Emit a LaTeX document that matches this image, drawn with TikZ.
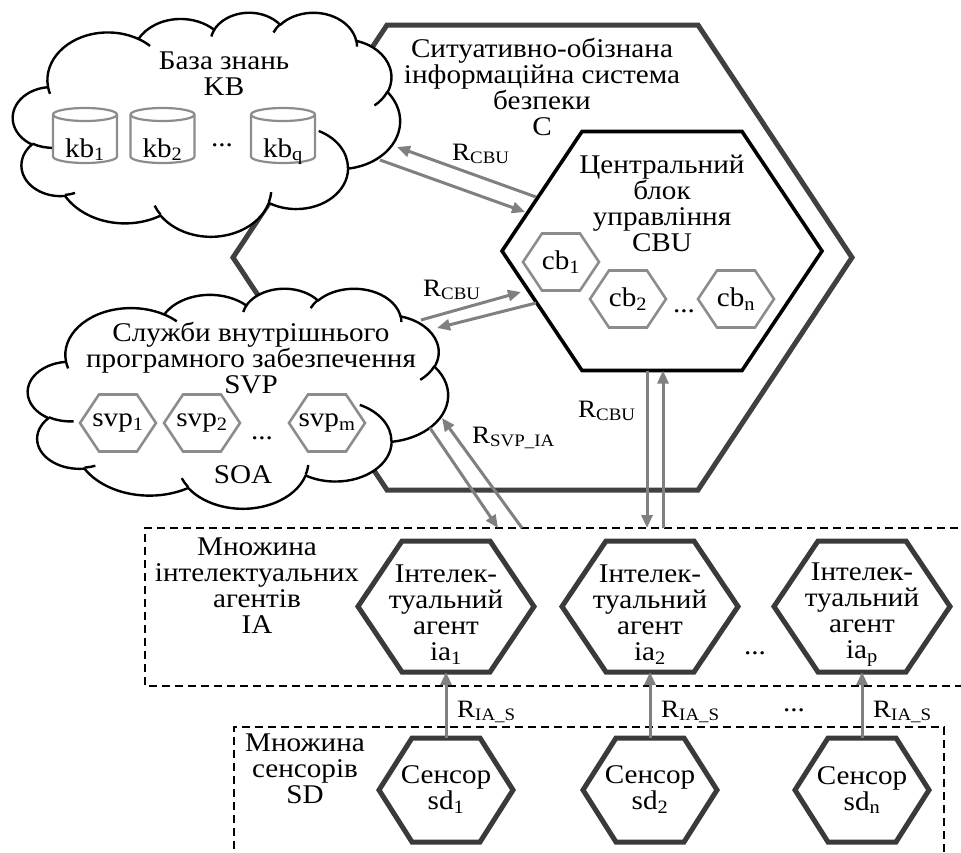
\documentclass[tikz,border=0pt]{standalone}
\usepackage{fontspec}
\setmainfont{Liberation Serif}[FakeStretch=1.08]
\usetikzlibrary{arrows.meta,calc}
\lineskiplimit=-30pt

\definecolor{framedark}{HTML}{404040}
\definecolor{agentdark}{HTML}{3A3A3A}
\definecolor{partgray}{HTML}{8C8C8C}
\definecolor{linkgray}{HTML}{808080}

\tikzset{
  % one elliptical step of a cloud outline: radii wR, hR (frame units of 432),
  % start angle and sweep given as ray angles in degrees
  ooarc/.style n args={4}{insert path={
    arc[start angle={-atan2((#1)*sin(#3),(#2)*cos(#3))},
        end angle={-atan2((#1)*sin((#3)+(#4)),(#2)*cos((#3)+(#4)))-360*(atan2((#1)*sin((#3)+(#4)),(#2)*cos((#3)+(#4)))<atan2((#1)*sin(#3),(#2)*cos(#3)))},
        x radius={(#1)*\cw*1pt}, y radius={(#2)*\ch*1pt}]}},
  cloudline/.style={draw=black, line width=2.4pt, line join=round},
  body/.style={font=\fontsize{27}{26}\selectfont, align=center, inner sep=0pt},
  rlabel/.style={font=\fontsize{25}{25}\selectfont, anchor=base west, inner sep=0pt},
  box/.style={rectangle, inner sep=0pt, outer sep=0pt},
  frameline/.style={draw=framedark, line width=5pt, line join=miter},
  cbuline/.style={draw=black, line width=3.6pt, line join=miter},
  agentline/.style={draw=agentdark, line width=5pt, line join=miter},
  partline/.style={draw=partgray, line width=2.6pt, line join=miter},
  dbline/.style={draw=partgray, line width=2.2pt},
  setline/.style={draw=black, line width=1.6pt, dash pattern=on 8pt off 5pt},
  link/.style={draw=linkgray, line width=3pt, -{Triangle[length=13pt,width=11pt]}},
  part/.style={box, minimum width=76pt, minimum height=57pt, font=\fontsize{27}{27}\selectfont},
  agent/.style={box, minimum width=176pt, minimum height=131pt},
  sensor/.style={box, minimum width=134pt, minimum height=104pt, font=\fontsize{27}{26}\selectfont, align=center},
  db/.style={box, minimum width=64pt, minimum height=55pt, text height=43pt, text depth=0pt, font=\fontsize{27}{27}\selectfont},
}

% hexagon with flat top and bottom around a rectangular node
\newcommand\hexborder[3]{%
  \draw[#3] (#1.west) -- ([xshift=#2]#1.north west) -- ([xshift=-#2]#1.north east)
    -- (#1.east) -- ([xshift=-#2]#1.south east) -- ([xshift=#2]#1.south west) -- cycle;}

% database cylinder around a rectangular node
\newcommand\dbborder[1]{%
  \draw[dbline, fill=white] ([yshift=-6.5pt]#1.north west) -- ([yshift=6.5pt]#1.south west)
    arc[start angle=180, end angle=360, x radius=32pt, y radius=6.5pt]
    -- ([yshift=-6.5pt]#1.north east)
    arc[start angle=0, end angle=180, x radius=32pt, y radius=6.5pt] -- cycle;
  \draw[dbline] ([yshift=-6.5pt]#1.north west)
    arc[start angle=180, end angle=360, x radius=32pt, y radius=6.5pt];}

% cloud outline in the frame (left, top, width, height)
\newcommand\wordcloud[4]{%
  \pgfmathsetmacro\cw{#3/432}\pgfmathsetmacro\ch{#4/432}%
  \draw[cloudline, fill=white] ({#1+39.00*\cw},{#2+143.70*\ch})
    [ooarc={67.53}{91.90}{-190.48748}{123.78053}]
    [ooarc={53.33}{72.67}{-144.10238}{89.94523}]
    [ooarc={43.65}{59.45}{-145.80792}{99.72302}]
    [ooarc={48.57}{65.95}{-130.98607}{117.24173}]
    [ooarc={53.33}{72.73}{-78.70888}{109.02692}]
    [ooarc={67.75}{92.20}{-46.26725}{130.269}]
    [ooarc={57.85}{78.67}{0.62502}{114.03333}]
    [ooarc={67.52}{92.15}{22.4516}{115.17255}]
    [ooarc={77.20}{105.43}{66.24263}{75.71102}]
    [ooarc={43.60}{59.18}{-274.94208}{146.73557}]
    [ooarc={43.45}{59.45}{-246.8285}{152.51885}]
    -- cycle;
  \draw[cloudline]
    ({#1+46.93*\cw},{#2+261.77*\ch}) [ooarc={43.45}{59.45}{86.742}{26.4295}]
    ({#1+69.28*\cw},{#2+348.99*\ch}) [ooarc={43.60}{59.18}{73.6105}{11.4475}]
    ({#1+164.78*\cw},{#2+390.90*\ch}) [ooarc={67.52}{92.15}{137.6242}{14.0811}]
    ({#1+288.27*\cw},{#2+347.51*\ch}) [ooarc={67.52}{92.15}{6.4533}{15.9984}]
    ({#1+341.29*\cw},{#2+229.54*\ch}) [ooarc={57.85}{78.67}{-70.2924}{70.9174}]
    ({#1+417.98*\cw},{#2+153.54*\ch}) [ooarc={53.33}{72.73}{30.318}{27.7515}]
    ({#1+383.24*\cw},{#2+54.26*\ch}) [ooarc={48.57}{65.95}{-13.7443}{14.8589}]
    ({#1+290.78*\cw},{#2+39.52*\ch}) [ooarc={48.57}{65.95}{-149.1815}{18.1954}]
    ({#1+221.41*\cw},{#2+47.20*\ch}) [ooarc={43.65}{59.45}{-163.4943}{17.6864}]
    ({#1+140.00*\cw},{#2+51.92*\ch}) [ooarc={67.53}{91.90}{-66.707}{12.3194}]
    ({#1+41.27*\cw},{#2+157.89*\ch}) [ooarc={67.53}{91.90}{157.6544}{11.8582}];}

\begin{document}
\begin{tikzpicture}[x=1pt,y=-1pt]
\useasboundingbox (0,0) rectangle (961,852);
\clip (0,0) rectangle (961,852);
\fill[white] (0,0) rectangle (961,852);

% situation-aware security system C
\node[box, minimum width=619pt, minimum height=465pt] (C) at (542.5,257.5) {};
\hexborder{C}{154pt}{frameline}
\node[body] (Ctext) at (542,87) {Ситуативно-обізнана\\інформаційна система\\безпеки\\C};

% central control unit
\node[box, minimum width=320pt, minimum height=239pt] (CBU) at (662,251) {};
\hexborder{CBU}{80pt}{cbuline}
\node[body] (CBUtext) at (662,203) {Центральний\\блок\\управління\\CBU};
\node[part] (cb1) at (561,262) {cb\textsubscript{1}};
\node[part] (cb2) at (628,299) {cb\textsubscript{2}};
\node[part] (cbn) at (736,299) {cb\textsubscript{n}};
\foreach \n in {cb1,cb2,cbn} {\hexborder{\n}{19pt}{partline}}
\node[body] (cbdots) at (684,311) {...};

% knowledge base
\wordcloud{13}{12}{387}{224}
\node[body] (KBtext) at (224,74) {База знань\\KB};
\node[db] (kb1) at (85,135.5) {};
\node[db] (kb2) at (162.5,135.5) {};
\node[db] (kbq) at (283,135.5) {};
\foreach \n in {kb1,kb2,kbq} {\dbborder{\n}}
\node[db] (kb1t) at (kb1) {kb\textsubscript{1}};
\node[db] (kb2t) at (kb2) {kb\textsubscript{2}};
\node[db] (kbqt) at (kbq) {kb\textsubscript{q}};
\node[body] (kbdots) at (222,145) {...};

% internal software services
\wordcloud{28}{288}{420}{220}
\node[body] (SVPtext) at (251,358) {Служби внутрішнього\\програмного забезпечення\\SVP};
\node[part] (svp1) at (118,423) {svp\textsubscript{1}};
\node[part] (svp2) at (202,423) {svp\textsubscript{2}};
\node[part] (svpm) at (327,423) {svp\textsubscript{m}};
\foreach \n in {svp1,svp2,svpm} {\hexborder{\n}{19pt}{partline}}
\node[body] (svpdots) at (262,438) {...};
\node[body] (SOA) at (243,475) {SOA};

% set of intelligent agents
\node[box, minimum width=826pt, minimum height=158pt] (IAbox) at (558,607) {};
\draw[setline] (IAbox.north east) -- (IAbox.north west) -- (IAbox.south west) -- (IAbox.south east);
\node[body] (IAtext) at (257,586) {Множина\\інтелектуальних\\агентів\\IA};
\node[agent] (ia1) at (446,606.5) {};
\node[agent] (ia2) at (650,606.5) {};
\node[agent] (iap) at (862,606.5) {};
\foreach \n in {ia1,ia2,iap} {\hexborder{\n}{44pt}{agentline}}
\node[body] (ia1t) at (446,615) {Інтелек-\\туальний\\агент\\ia\textsubscript{1}};
\node[body] (ia2t) at (650,615) {Інтелек-\\туальний\\агент\\ia\textsubscript{2}};
\node[body] (iapt) at (862,615) {Інтелек-\\туальний\\агент\\ia\textsubscript{p}};
\node[body] (iadots) at (755,653) {...};

% set of sensors
\node[box, minimum width=710pt, minimum height=135pt] (SDbox) at (589,794.5) {};
\draw[setline] (SDbox.south west) -- (SDbox.north west) -- (SDbox.north east) -- (SDbox.south east);
\node[body] (SDtext) at (305,769) {Множина\\сенсорів\\SD};
\node[sensor] (sd1) at (446,790) {Сенсор\\sd\textsubscript{1}};
\node[sensor] (sd2) at (650,790) {Сенсор\\sd\textsubscript{2}};
\node[sensor] (sdn) at (862,790) {Сенсор\\sd\textsubscript{n}};
\foreach \n in {sd1,sd2,sdn} {\hexborder{\n}{33pt}{agentline}}

% connector ends on the clouds and the control unit
\coordinate (kbIn) at (397,147);
\coordinate (kbOut) at (380,160);
\coordinate (cbuOutK) at (536,197);
\coordinate (cbuInK) at (525,212);
\coordinate (svOut) at (421,320);
\coordinate (cbuInS) at (521,292);
\coordinate (cbuOutS) at (536,303);
\coordinate (svIn) at (437,328);
\coordinate (svOutA) at (430,428);
\coordinate (iaInS) at (498,528);
\coordinate (iaOutS) at (522,528);
\coordinate (svInA) at (442,418);

% relations
\draw[link] (cbuOutK) -- (kbIn);
\draw[link] (kbOut) -- (cbuInK);
\draw[link] (svOut) -- (cbuInS);
\draw[link] (cbuOutS) -- (svIn);
\draw[link] ([xshift=-15pt]CBU.south) -- ([xshift=-15pt]CBU.south |- IAbox.north);
\draw[link] ([xshift=1pt]CBU.south |- IAbox.north) -- ([xshift=1pt]CBU.south);
\draw[link] (svOutA) -- (iaInS);
\draw[link] (iaOutS) -- (svInA);
\draw[link] (sd1.north) -- (ia1.south);
\draw[link] (sd2.north) -- (ia2.south);
\draw[link] (sdn.north) -- (iap.south);

\node[rlabel] (rK) at (452,160) {R\textsubscript{CBU}};
\node[rlabel] (rS) at (423,296) {R\textsubscript{CBU}};
\node[rlabel] (rI) at (578,417) {R\textsubscript{CBU}};
\node[rlabel] (rSI) at (472,443) {R\textsubscript{SVP\_IA}};
\node[rlabel] (rs1) at (457,717) {R\textsubscript{IA\_S}};
\node[rlabel] (rs2) at (661,717) {R\textsubscript{IA\_S}};
\node[rlabel] (rs3) at (873,717) {R\textsubscript{IA\_S}};
\node[body] (rdots) at (794,710) {...};
\end{tikzpicture}
\end{document}
